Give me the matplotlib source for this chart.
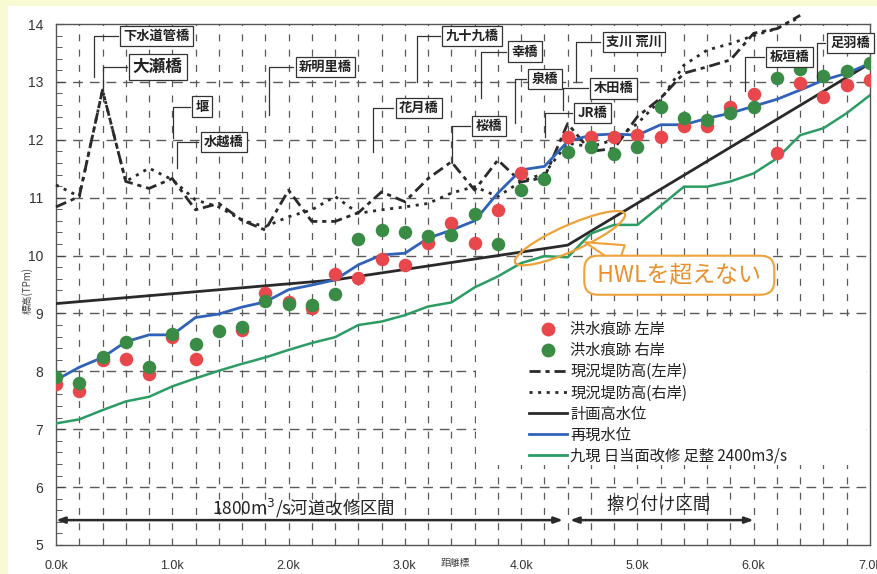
import numpy as np
import matplotlib
matplotlib.use("Agg")
import matplotlib.pyplot as plt
from matplotlib.lines import Line2D
from matplotlib.patches import Ellipse, Rectangle
from matplotlib.transforms import ScaledTranslation

plt.rcParams['font.family'] = ['Noto Sans CJK JP', 'DejaVu Sans']
plt.rcParams['lines.scale_dashes'] = False

# ---------------- data ----------------
km = [0.0, 0.2, 0.4, 0.6, 0.8, 1.0, 1.2, 1.4, 1.6, 1.8, 2.0, 2.2, 2.4, 2.6, 2.8, 3.0,
      3.2, 3.4, 3.6, 3.8, 4.0, 4.2, 4.4, 4.6, 4.8, 5.0, 5.2, 5.4, 5.6, 5.8, 6.0, 6.2,
      6.4, 6.6, 6.8, 7.0]

trace_left = [7.78, 7.66, 8.19, 8.21, 7.95, 8.59, 8.22, np.nan, 8.71, 9.35, 9.20, 9.09,
              9.68, 9.62, 9.94, 9.84, 10.21, 10.57, 10.22, 10.79, 11.42, np.nan, 12.04,
              12.05, 12.05, 12.08, 12.04, 12.24, 12.23, 12.56, 12.79, 11.78, 12.98, 12.74,
              12.95, 13.03]
trace_right = [7.90, 7.79, 8.24, 8.50, 8.07, 8.64, 8.47, 8.70, 8.77, 9.22, 9.16, 9.14,
               9.33, 10.29, 10.45, 10.40, 10.33, 10.35, 10.71, 10.20, 11.14, 11.33, 11.79,
               11.87, 11.75, 11.88, 12.57, 12.37, 12.34, 12.46, 12.56, 13.06, 13.23, 13.10,
               13.18, 13.32]
reproduced = [7.85, 8.07, 8.24, 8.51, 8.63, 8.63, 8.93, 8.99, 9.11, 9.20, 9.41, 9.49,
              9.58, 9.84, 10.01, 10.04, 10.30, 10.44, 10.60, 11.08, 11.48, 11.54, 11.97,
              12.08, 12.10, 12.08, 12.26, 12.26, 12.37, 12.46, 12.58, 12.70, 12.86, 13.03,
              13.15, 13.32]
improved_2400 = [7.10, 7.17, 7.33, 7.48, 7.56, 7.74, 7.88, 8.01, 8.13, 8.24, 8.37, 8.49,
                 8.59, 8.80, 8.86, 8.97, 9.12, 9.19, 9.45, 9.64, 9.87, 9.99, 9.97, 10.38,
                 10.53, 10.53, 10.86, 11.19, 11.19, 11.28, 11.42, 11.68, 12.08, 12.20,
                 12.46, 12.77]

levee_km = km[:33]
levee_left = [10.84, 11.02, 12.86, 11.28, 11.16, 11.33, 10.79, 10.90, 10.61, 10.44, 11.13,
              10.59, 10.59, 10.74, 11.10, 10.93, 11.33, 11.62, 11.13, 11.65, 11.27, 11.35,
              12.28, 11.80, 11.85, 12.40, 12.72, 13.15, 13.26, 13.38, 13.84, 13.92, 14.15]
levee_right = [11.22, 11.02, 12.86, 11.28, 11.51, 11.31, 10.96, 10.84, 10.61, 10.50, 10.67,
               10.79, 11.02, 10.73, 10.79, 10.84, 10.90, 11.08, 11.19, 11.02, 11.28, 11.42,
               11.94, 11.88, 12.00, 12.28, 12.69, 13.29, 13.55, 13.66, 13.80, 13.92, 14.12]

hwl_km = [0.0, 2.4, 4.4, 7.0]
hwl = [9.17, 9.58, 10.18, 13.32]

xtick_vals = [0, 1, 2, 3, 4, 5, 6, 7]
xtick_labels = ['0.0k', '1.0k', '2.0k', '3.0k', '4.0k', '5.0k', '6.0k', '7.0k']
ytick_vals = [5, 6, 7, 8, 9, 10, 11, 12, 13, 14]

legend_labels = ['洪水痕跡 左岸', '洪水痕跡 右岸', '現況堤防高(左岸)', '現況堤防高(右岸)',
                 '計画高水位', '再現水位', '九現 日当面改修 足整 2400m3/s']

bridge_names = ['下水道管橋', '大瀬橋', '堰', '水越橋', '新明里橋', '花月橋', '九十九橋', '幸橋',
                '泉橋', '支川 荒川', '木田橋', 'JR橋', '桜橋', '板垣橋', '足羽橋']

# ---------------- layout / styles ----------------
C_RED = '#e8484b'
C_GRN = '#3a8b45'
C_BLUE = '#2f62b8'
C_LGRN = '#2c9c64'
C_BLK = '#2a2a2a'
C_ORG = '#eea23a'
C_GRID = '#5a5a5a'

W, H = 877, 574
fig = plt.figure(figsize=(W / 100, H / 100), dpi=100)
fig.patch.set_facecolor('#f8fad4')
fig.add_artist(Rectangle((8 / W, 0), 1, 1 - 6 / H, transform=fig.transFigure,
                         fc='white', ec='none', zorder=0))
ax = fig.add_axes([56 / W, 1 - 545 / H, 814 / W, 521 / H])
ax.set_facecolor('white')
ax.set_xlim(0, 7)
ax.set_ylim(5, 14)

def ax_frac(px, py):
    return ((px - 56) / 814, 1 - (py - 24) / 521)

# grid
for yv in ytick_vals[1:-1]:
    ax.axhline(yv, color=C_GRID, lw=1.0, dashes=(7, 5), zorder=1)
for xv in np.arange(0.2, 7.0, 0.2):
    ax.axvline(xv, color=C_GRID, lw=0.9, dashes=(5, 6), zorder=1)

# white area behind legend (covers grid, like the reference)
lx0, ly0 = ax_frac(476, 465)
lx1, ly1 = ax_frac(866, 318)
ax.add_patch(Rectangle((lx0, ly0), lx1 - lx0, ly1 - ly0, transform=ax.transAxes,
                       fc='white', ec='none', zorder=1.5))

ax.set_xticks(xtick_vals)
ax.set_xticklabels(xtick_labels, family=['Liberation Sans', 'DejaVu Sans'], fontsize=9,
                   color='#333333')
ax.set_yticks(ytick_vals)
ax.set_yticklabels([str(v) for v in ytick_vals], family=['Liberation Sans', 'DejaVu Sans'],
                   fontsize=10, color='#333333')
ax.set_yticks(np.arange(5, 14.01, 0.2), minor=True)
ax.tick_params(axis='x', length=0, pad=11)
ax.tick_params(axis='y', which='major', direction='in', length=6, pad=9, color='#444')
ax.tick_params(axis='y', which='minor', direction='in', length=4, color='#444')
for s in ax.spines.values():
    s.set_color('#555555')
    s.set_linewidth(1.0)

# lines
ax.plot(levee_km, levee_left, color=C_BLK, lw=2.0, dashes=(8, 3.5, 3, 3.5), zorder=3,
        clip_on=False)
ax.plot(levee_km, levee_right, color=C_BLK, lw=2.0, dashes=(2.2, 4), zorder=3,
        clip_on=False)
ax.plot(hwl_km, hwl, color=C_BLK, lw=2.0, zorder=4)
ax.plot(km, improved_2400, color=C_LGRN, lw=1.8, zorder=4)
ax.plot(km, reproduced, color=C_BLUE, lw=2.0, zorder=5)
ax.scatter(km, trace_left, s=95, color=C_RED, zorder=6, linewidths=0)
ax.scatter(km, trace_right, s=95, color=C_GRN, zorder=7, linewidths=0)

# legend
handles = [
    Line2D([], [], ls='none', marker='o', ms=10, color=C_RED, mec='none'),
    Line2D([], [], ls='none', marker='o', ms=10, color=C_GRN, mec='none'),
    Line2D([], [], color=C_BLK, lw=2.0, dashes=(8, 3.5, 3, 3.5)),
    Line2D([], [], color=C_BLK, lw=2.0, dashes=(2.2, 4)),
    Line2D([], [], color=C_BLK, lw=2.0),
    Line2D([], [], color=C_BLUE, lw=2.0),
    Line2D([], [], color=C_LGRN, lw=2.0),
]
leg = ax.legend(handles, legend_labels, loc='upper left',
                bbox_to_anchor=ax_frac(529, 321),
                frameon=False, fontsize=11, handlelength=2.5, handletextpad=0.2,
                labelspacing=0.27, borderaxespad=0, borderpad=0)
for t in leg.get_texts():
    t.set_color('#222222')

# bridge labels: (text-left x, center y, leader x, leader bottom y, fontsize)
bridge_layout = [
    (0.533, 13.79, 0.327, 13.08, 9.5),
    (0.610, 13.26, 0.404, 12.85, 12),
    (1.152, 12.57, 1.006, 12.03, 9.5),
    (1.221, 11.96, 1.040, 11.51, 9.5),
    (2.038, 13.26, 1.831, 12.43, 9.5),
    (2.898, 12.55, 2.726, 11.79, 9.5),
    (3.302, 13.79, 3.104, 13.00, 9.5),
    (3.869, 13.52, 3.654, 12.72, 9.5),
    (4.041, 13.05, 3.947, 12.29, 9.5),
    (4.678, 13.69, 4.471, 13.00, 9.5),
    (4.574, 12.89, 4.360, 12.51, 9.5),
    (4.437, 12.46, 4.205, 12.05, 9.5),
    (3.560, 12.24, 3.405, 11.60, 9.5),
    (6.088, 13.43, 5.924, 12.84, 9.5),
    (6.612, 13.67, 6.543, 13.03, 9.5),
]
for name, (tx, ty, lx, ly, fs) in zip(bridge_names, bridge_layout):
    ax.plot([tx, lx, lx], [ty, ty, ly], color='#333333', lw=0.9, zorder=8)
    ax.text(tx + 0.05, ty, name, fontsize=fs, fontweight='bold', ha='left', va='center',
            color='#222222', zorder=9,
            bbox=dict(boxstyle='square,pad=0.25', fc='white', ec='#333333', lw=0.9))

# HWL callout
ell_tr = fig.dpi_scale_trans + ScaledTranslation(4.42, 10.30, ax.transData)
ax.add_patch(Ellipse((0, 0), 1.20, 0.26, angle=24, transform=ell_tr, fill=False,
                     ec=C_ORG, lw=1.6, zorder=9, clip_on=False))
ax.annotate(' HWLを超えない ', xy=(4.55, 10.23), xytext=(5.36, 9.66), fontsize=16.5,
            color='#e8912c', ha='center', va='center', zorder=10,
            bbox=dict(boxstyle='round,pad=0.35,rounding_size=0.6', fc='white', ec=C_ORG,
                      lw=1.5),
            arrowprops=dict(arrowstyle='wedge,tail_width=0.9,shrink_factor=0.5', fc='white',
                            ec=C_ORG, lw=1.5, shrinkA=0, shrinkB=0))

# section arrows
ax.annotate('', xy=(0.0, 5.43), xytext=(4.36, 5.43),
            arrowprops=dict(arrowstyle='<|-|>,head_length=0.5,head_width=0.18', color=C_BLK,
                            lw=1.8, shrinkA=0, shrinkB=0), zorder=6)
ax.annotate('', xy=(4.42, 5.43), xytext=(6.0, 5.43),
            arrowprops=dict(arrowstyle='<|-|>,head_length=0.5,head_width=0.18', color=C_BLK,
                            lw=1.8, shrinkA=0, shrinkB=0), zorder=6)
ax.text(2.13, 5.64, '1800m$^3$/s河道改修区間', fontsize=12.5, ha='center', va='center',
        color='#222222', zorder=7)
ax.text(5.18, 5.69, '擦り付け区間', fontsize=12.5, ha='center', va='center',
        color='#222222', zorder=7)

# axis titles
fig.text(27 / W, 1 - 290 / H, '標高(TPm)', rotation=90, fontsize=7, ha='center',
         va='center', color='#444444')
fig.text(455 / W, 1 - 568 / H, '距離標', fontsize=7, ha='center', va='bottom',
         color='#444444')

fig.savefig('out.png', dpi=100, facecolor=fig.get_facecolor())
